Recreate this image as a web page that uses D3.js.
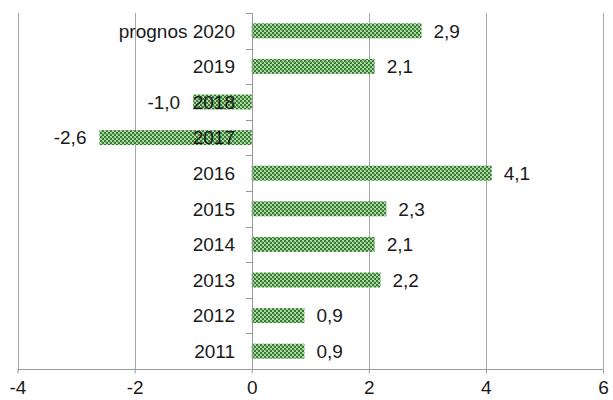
<!DOCTYPE html>
<html><head><meta charset="utf-8">
<script src="https://cdn.jsdelivr.net/npm/d3@7"></script>
<style>body{margin:0;background:#fff}svg{display:block}</style>
</head><body>
<script>
const categories = ["prognos 2020","2019","2018","2017","2016","2015","2014","2013","2012","2011"];
const values = [2.9, 2.1, -1.0, -2.6, 4.1, 2.3, 2.1, 2.2, 0.9, 0.9];
const xTicks = [-4, -2, 0, 2, 4, 6];

const W = 613, H = 400;
const svg = d3.select("body").append("svg").attr("width", W).attr("height", H);

const defs = svg.append("defs");
const pat = defs.append("pattern").attr("id","chk").attr("patternUnits","userSpaceOnUse")
  .attr("width",4).attr("height",4);
pat.append("rect").attr("width",4).attr("height",4).attr("fill","#b4d6aa");
pat.append("rect").attr("x",0).attr("y",0).attr("width",2).attr("height",2).attr("fill","#2e7d2c");
pat.append("rect").attr("x",2).attr("y",2).attr("width",2).attr("height",2).attr("fill","#2e7d2c");
pat.append("rect").attr("x",1).attr("y",1).attr("width",2).attr("height",2).attr("fill","#5e9e55").attr("opacity",0.5);

const x = d3.scaleLinear().domain([-4, 6]).range([17.5, 603]);
const y = d3.scaleBand().domain(categories).range([13, 369]).paddingInner(0.58).paddingOuter(0.29);
const yb = d3.scaleBand().domain(categories).range([13, 369]);

const font = "'Liberation Sans', Arial, sans-serif";
const fs = 19;

// gridlines
svg.append("g").selectAll("line").data(xTicks).join("line")
  .attr("x1", d => Math.round(x(d)) + 0.5).attr("x2", d => Math.round(x(d)) + 0.5)
  .attr("y1", 13).attr("y2", 369)
  .attr("stroke", "#a6a6a6").attr("stroke-width", 1);

// bottom axis
const xAxis = d3.axisBottom(x).tickValues(xTicks).tickSize(4).tickFormat(d3.format("d"));
const gx = svg.append("g").attr("transform", "translate(0,369.5)").call(xAxis);
gx.select(".domain").attr("stroke", "#999").attr("d", `M${x(-4)},0H${x(6)}`);
gx.selectAll(".tick line").attr("stroke", "#999");
gx.selectAll(".tick text").attr("font-family", font).attr("font-size", fs).attr("fill", "#1a1a1a")
  .attr("y", 11).attr("dy", "0.71em").text(d => d < 0 ? "-" + Math.abs(d) : d);

// bars
svg.append("g").selectAll("rect").data(values).join("rect")
  .attr("x", d => x(Math.min(0, d)))
  .attr("width", d => Math.abs(x(d) - x(0)))
  .attr("y", (d, i) => y(categories[i]))
  .attr("height", y.bandwidth())
  .attr("fill", "url(#chk)");

// vertical axis at 0
const gy = svg.append("g");
gy.append("line").attr("x1", Math.round(x(0)) + 0.5).attr("x2", Math.round(x(0)) + 0.5)
  .attr("y1", 13).attr("y2", 369).attr("stroke", "#999");
const bounds = categories.map(c => yb(c)).concat([369]);
gy.selectAll("line.t").data(bounds).join("line").attr("class","t")
  .attr("x1", Math.round(x(0)) - 6).attr("x2", Math.round(x(0)) + 0.5)
  .attr("y1", d => Math.round(d) + 0.5).attr("y2", d => Math.round(d) + 0.5)
  .attr("stroke", "#999");

// category labels
svg.append("g").selectAll("text").data(categories).join("text")
  .attr("x", 235).attr("y", c => y(c) + y.bandwidth() / 2)
  .attr("dy", "0.36em").attr("text-anchor", "end")
  .attr("font-family", font).attr("font-size", fs).attr("fill", "#1a1a1a")
  .text(c => c);

// value labels
const fmt = v => (v < 0 ? "-" : "") + Math.abs(v).toFixed(1).replace(".", ",");
svg.append("g").selectAll("text").data(values).join("text")
  .attr("x", d => d >= 0 ? x(d) + 12 : x(d) - 13)
  .attr("y", (d, i) => y(categories[i]) + y.bandwidth() / 2)
  .attr("dy", "0.36em").attr("text-anchor", d => d >= 0 ? "start" : "end")
  .attr("font-family", font).attr("font-size", fs).attr("fill", "#1a1a1a")
  .text(fmt);
</script>
</body></html>
